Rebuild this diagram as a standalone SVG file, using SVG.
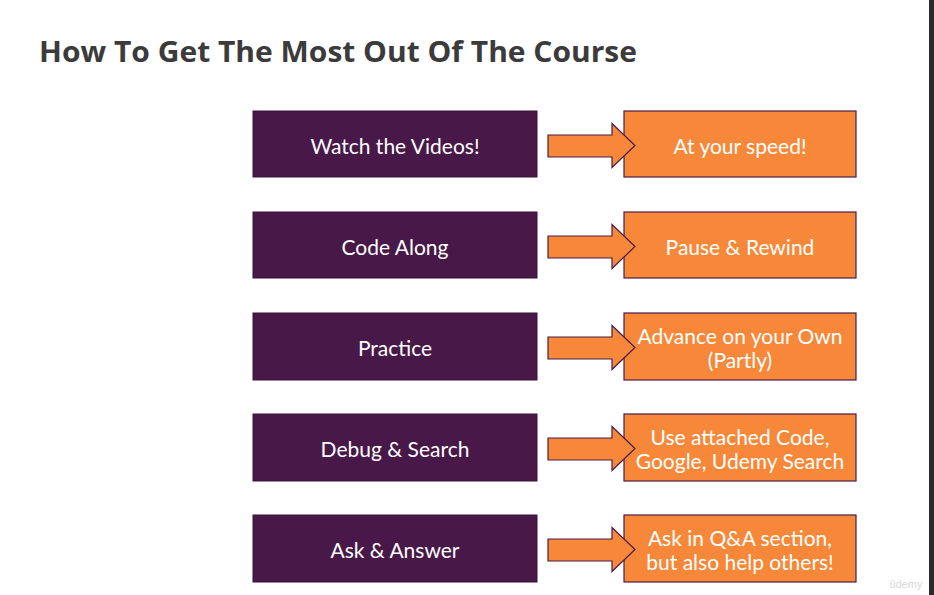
<svg xmlns="http://www.w3.org/2000/svg" width="934" height="595" viewBox="0 0 934 595">
<style>
.bg{fill:#ffffff}
.left{fill:#481848;stroke:#3a1238;stroke-width:1}
.right{fill:#f7883a;stroke:#4a1d48;stroke-width:1.2}
.arrow{fill:#f7883a;stroke:#4a1d48;stroke-width:1.2;stroke-linejoin:miter}
.t{font-family:Lato,"Open Sans","Liberation Sans",sans-serif;font-size:21px;fill:#ffffff;text-anchor:middle;dominant-baseline:central}
.title{font-family:"Open Sans","Liberation Sans",sans-serif;font-weight:bold;font-size:29px;fill:#3b3b3b}
</style>
<defs>
<polygon id="arr" points="548,135 612,135 612,123.5 635,145.5 612,167.5 612,157 548,157"/>
</defs>
<rect class="bg" x="0" y="0" width="934" height="595"/>
<rect x="929" y="0" width="5" height="595" fill="#2a2a2a"/>
<text class="title" x="39" y="62" textLength="598" lengthAdjust="spacingAndGlyphs">How To Get The Most Out Of The Course</text>

<g id="watch">
<rect class="left" x="253" y="111" width="284" height="66"/>
<text class="t" x="395" y="145">Watch the Videos!</text>
</g>
<g id="speed">
<rect class="right" x="624" y="111" width="232" height="66"/>
<text class="t" x="740" y="145">At your speed!</text>
</g>

<g id="code">
<rect class="left" x="253" y="212" width="284" height="66"/>
<text class="t" x="395" y="246">Code Along</text>
</g>
<g id="pause">
<rect class="right" x="624" y="212" width="232" height="66"/>
<text class="t" x="740" y="246">Pause &amp; Rewind</text>
</g>

<g id="practice">
<rect class="left" x="253" y="313" width="284" height="67"/>
<text class="t" x="395" y="347">Practice</text>
</g>
<g id="advance">
<rect class="right" x="624" y="313" width="232" height="67"/>
<text class="t" x="740" y="335">Advance on your Own</text>
<text class="t" x="740" y="359">(Partly)</text>
</g>

<g id="debug">
<rect class="left" x="253" y="414" width="284" height="67"/>
<text class="t" x="395" y="448">Debug &amp; Search</text>
</g>
<g id="use">
<rect class="right" x="624" y="414" width="232" height="67"/>
<text class="t" x="740" y="436">Use attached Code,</text>
<text class="t" x="740" y="460">Google, Udemy Search</text>
</g>

<g id="ask">
<rect class="left" x="253" y="515" width="284" height="67"/>
<text class="t" x="395" y="549">Ask &amp; Answer</text>
</g>
<g id="qa">
<rect class="right" x="624" y="515" width="232" height="67"/>
<text class="t" x="740" y="537">Ask in Q&amp;A section,</text>
<text class="t" x="740" y="561">but also help others!</text>
</g>

<g id="connectors">
<use href="#arr" class="arrow"/>
<use href="#arr" class="arrow" y="101"/>
<use href="#arr" class="arrow" y="202"/>
<use href="#arr" class="arrow" y="303"/>
<use href="#arr" class="arrow" y="404"/>
</g>

<text x="906" y="588" font-family="'Liberation Sans',sans-serif" font-size="11" fill="#d8d8d8" text-anchor="middle">ûdemy</text>
</svg>
